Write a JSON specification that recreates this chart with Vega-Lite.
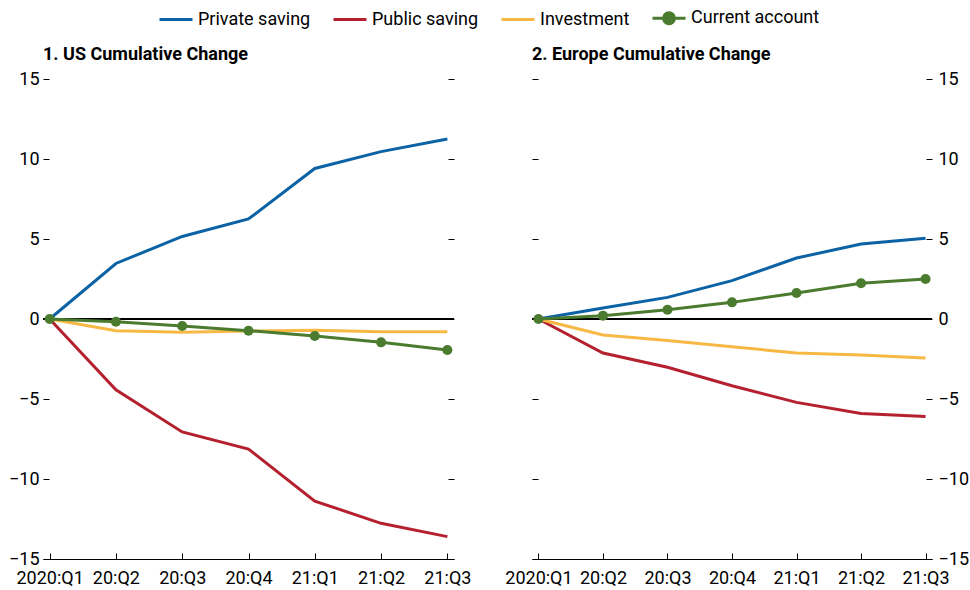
{
  "$schema": "https://vega.github.io/schema/vega-lite/v6.json",
  "padding": {"left": 8, "top": 0, "right": 5, "bottom": 0},
  "background": "white",
  "data": {"values": [
    {"panel": "US", "q": "2020:Q1", "series": "Private saving", "value": 0},
    {"panel": "US", "q": "20:Q2", "series": "Private saving", "value": 3.47},
    {"panel": "US", "q": "20:Q3", "series": "Private saving", "value": 5.16},
    {"panel": "US", "q": "20:Q4", "series": "Private saving", "value": 6.25},
    {"panel": "US", "q": "21:Q1", "series": "Private saving", "value": 9.41},
    {"panel": "US", "q": "21:Q2", "series": "Private saving", "value": 10.46},
    {"panel": "US", "q": "21:Q3", "series": "Private saving", "value": 11.25},
    {"panel": "US", "q": "2020:Q1", "series": "Public saving", "value": 0},
    {"panel": "US", "q": "20:Q2", "series": "Public saving", "value": -4.42},
    {"panel": "US", "q": "20:Q3", "series": "Public saving", "value": -7.06},
    {"panel": "US", "q": "20:Q4", "series": "Public saving", "value": -8.13},
    {"panel": "US", "q": "21:Q1", "series": "Public saving", "value": -11.38},
    {"panel": "US", "q": "21:Q2", "series": "Public saving", "value": -12.77},
    {"panel": "US", "q": "21:Q3", "series": "Public saving", "value": -13.6},
    {"panel": "US", "q": "2020:Q1", "series": "Investment", "value": 0},
    {"panel": "US", "q": "20:Q2", "series": "Investment", "value": -0.73},
    {"panel": "US", "q": "20:Q3", "series": "Investment", "value": -0.83},
    {"panel": "US", "q": "20:Q4", "series": "Investment", "value": -0.75},
    {"panel": "US", "q": "21:Q1", "series": "Investment", "value": -0.71},
    {"panel": "US", "q": "21:Q2", "series": "Investment", "value": -0.79},
    {"panel": "US", "q": "21:Q3", "series": "Investment", "value": -0.79},
    {"panel": "US", "q": "2020:Q1", "series": "Current account", "value": 0},
    {"panel": "US", "q": "20:Q2", "series": "Current account", "value": -0.17},
    {"panel": "US", "q": "20:Q3", "series": "Current account", "value": -0.44},
    {"panel": "US", "q": "20:Q4", "series": "Current account", "value": -0.73},
    {"panel": "US", "q": "21:Q1", "series": "Current account", "value": -1.06},
    {"panel": "US", "q": "21:Q2", "series": "Current account", "value": -1.46},
    {"panel": "US", "q": "21:Q3", "series": "Current account", "value": -1.94},
    {"panel": "EU", "q": "2020:Q1", "series": "Private saving", "value": 0},
    {"panel": "EU", "q": "20:Q2", "series": "Private saving", "value": 0.69},
    {"panel": "EU", "q": "20:Q3", "series": "Private saving", "value": 1.35},
    {"panel": "EU", "q": "20:Q4", "series": "Private saving", "value": 2.4},
    {"panel": "EU", "q": "21:Q1", "series": "Private saving", "value": 3.81},
    {"panel": "EU", "q": "21:Q2", "series": "Private saving", "value": 4.69},
    {"panel": "EU", "q": "21:Q3", "series": "Private saving", "value": 5.04},
    {"panel": "EU", "q": "2020:Q1", "series": "Public saving", "value": 0},
    {"panel": "EU", "q": "20:Q2", "series": "Public saving", "value": -2.13},
    {"panel": "EU", "q": "20:Q3", "series": "Public saving", "value": -3.02},
    {"panel": "EU", "q": "20:Q4", "series": "Public saving", "value": -4.17},
    {"panel": "EU", "q": "21:Q1", "series": "Public saving", "value": -5.21},
    {"panel": "EU", "q": "21:Q2", "series": "Public saving", "value": -5.9},
    {"panel": "EU", "q": "21:Q3", "series": "Public saving", "value": -6.1},
    {"panel": "EU", "q": "2020:Q1", "series": "Investment", "value": 0},
    {"panel": "EU", "q": "20:Q2", "series": "Investment", "value": -1.0},
    {"panel": "EU", "q": "20:Q3", "series": "Investment", "value": -1.35},
    {"panel": "EU", "q": "20:Q4", "series": "Investment", "value": -1.73},
    {"panel": "EU", "q": "21:Q1", "series": "Investment", "value": -2.13},
    {"panel": "EU", "q": "21:Q2", "series": "Investment", "value": -2.25},
    {"panel": "EU", "q": "21:Q3", "series": "Investment", "value": -2.44},
    {"panel": "EU", "q": "2020:Q1", "series": "Current account", "value": 0},
    {"panel": "EU", "q": "20:Q2", "series": "Current account", "value": 0.21},
    {"panel": "EU", "q": "20:Q3", "series": "Current account", "value": 0.58},
    {"panel": "EU", "q": "20:Q4", "series": "Current account", "value": 1.04},
    {"panel": "EU", "q": "21:Q1", "series": "Current account", "value": 1.62},
    {"panel": "EU", "q": "21:Q2", "series": "Current account", "value": 2.23},
    {"panel": "EU", "q": "21:Q3", "series": "Current account", "value": 2.5}
  ]},
  "spacing": 33,
  "hconcat": [
    {
      "title": {"text": "1. US Cumulative Change"},
      "width": 411,
      "height": 480,
      "transform": [{"filter": "datum.panel === 'US'"}],
      "layer": [
        {
          "mark": {"type": "rule", "color": "black", "strokeWidth": 1},
          "encoding": {
            "y": {"datum": 0, "type": "quantitative", "scale": {"domain": [-15, 15], "nice": false},
                  "axis": {"orient": "right", "title": null, "labels": false, "values": [-15, -10, -5, 0, 5, 10, 15], "domain": false, "tickSize": -6, "minExtent": 0}}
          }
        },
        {
          "mark": {"type": "line", "strokeWidth": 3},
          "encoding": {
            "x": {"field": "q", "type": "ordinal", "sort": null, "scale": {"type": "point", "padding": 0.1},
                  "axis": {"title": null, "labelAngle": 0, "tickSize": -6, "labelPadding": 16}},
            "y": {"field": "value", "type": "quantitative", "scale": {"domain": [-15, 15], "nice": false},
                  "axis": {"orient": "left", "title": null, "values": [-15, -10, -5, 0, 5, 10, 15], "domain": false, "tickSize": -6, "labelPadding": 10, "minExtent": 0}},
            "color": {"field": "series", "type": "nominal",
                      "scale": {"domain": ["Private saving", "Public saving", "Investment", "Current account"], "range": ["#0b62a4", "#b5202e", "#f7b944", "#4a7b2e"]},
                      "legend": {"orient": "none", "legendX": 115, "legendY": -79, "title": null, "direction": "horizontal", "symbolType": "stroke", "symbolSize": 1089, "symbolStrokeWidth": 3, "labelFontSize": 18, "labelOffset": 4, "columnPadding": 16,
                                 "encode": {"symbols": {"update": {
                                   "shape": {"signal": "datum.value === 'Current account' ? 'M-1,0L1,0M0.33,0A0.33,0.33,0,1,1,-0.33,0A0.33,0.33,0,1,1,0.33,0Z' : 'stroke'"},
                                   "fill": {"signal": "datum.value === 'Current account' ? '#4a7b2e' : 'transparent'"}}}}}}
          }
        },
        {
          "transform": [{"filter": "datum.series === 'Current account'"}],
          "mark": {"type": "point", "filled": true, "size": 100, "opacity": 1, "color": "#4a7b2e"},
          "encoding": {
            "x": {"field": "q", "type": "ordinal", "sort": null},
            "y": {"field": "value", "type": "quantitative", "axis": null, "scale": {"domain": [-15, 15], "nice": false}}
          }
        }
      ],
      "resolve": {"axis": {"y": "independent"}}
    },
    {
      "title": {"text": "2. Europe Cumulative Change"},
      "width": 400,
      "height": 480,
      "transform": [{"filter": "datum.panel === 'EU'"}],
      "layer": [
        {
          "mark": {"type": "rule", "color": "black", "strokeWidth": 1},
          "encoding": {
            "y": {"datum": 0, "type": "quantitative", "scale": {"domain": [-15, 15], "nice": false},
                  "axis": {"orient": "left", "title": null, "labels": false, "values": [-15, -10, -5, 0, 5, 10, 15], "domain": false, "tickSize": -6, "minExtent": 0}}
          }
        },
        {
          "mark": {"type": "line", "strokeWidth": 3},
          "encoding": {
            "x": {"field": "q", "type": "ordinal", "sort": null, "scale": {"type": "point", "padding": 0.1},
                  "axis": {"title": null, "labelAngle": 0, "tickSize": -6, "labelPadding": 16}},
            "y": {"field": "value", "type": "quantitative", "scale": {"domain": [-15, 15], "nice": false},
                  "axis": {"orient": "right", "title": null, "values": [-15, -10, -5, 0, 5, 10, 15], "domain": false, "tickSize": -6, "labelPadding": 12, "minExtent": 0}},
            "color": {"field": "series", "type": "nominal",
                      "scale": {"domain": ["Private saving", "Public saving", "Investment", "Current account"], "range": ["#0b62a4", "#b5202e", "#f7b944", "#4a7b2e"]}}
          }
        },
        {
          "transform": [{"filter": "datum.series === 'Current account'"}],
          "mark": {"type": "point", "filled": true, "size": 100, "opacity": 1, "color": "#4a7b2e"},
          "encoding": {
            "x": {"field": "q", "type": "ordinal", "sort": null},
            "y": {"field": "value", "type": "quantitative", "axis": null, "scale": {"domain": [-15, 15], "nice": false}}
          }
        }
      ],
      "resolve": {"axis": {"y": "independent"}}
    }
  ],
  "config": {
    "font": "Roboto",
    "view": {"stroke": null},
    "axis": {"labelFont": "Roboto", "labelFontSize": 18, "labelColor": "black", "tickColor": "black", "domainColor": "black", "grid": false, "tickWidth": 1, "domainWidth": 1},
    "title": {"font": "Roboto", "fontSize": 18, "fontWeight": "bold", "anchor": "start", "frame": "group", "color": "black", "offset": 6},
    "legend": {"labelFont": "Roboto", "labelColor": "black"}
  }
}
